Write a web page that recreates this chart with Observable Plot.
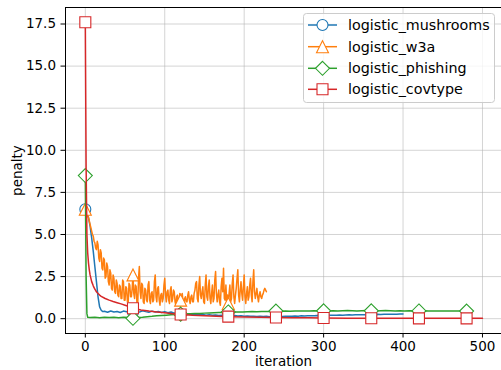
<!DOCTYPE html>
<html><head><meta charset="utf-8">
<script src="https://cdn.jsdelivr.net/npm/d3@7"></script>
<script src="https://cdn.jsdelivr.net/npm/@observablehq/plot@0.6"></script>
<style>body{margin:0;background:#fff;} #wrap{width:501px;height:370px;}</style>
</head><body><div id="wrap"></div>
<script>
// ---- data ----
const seriesNames = ["logistic_mushrooms", "logistic_w3a", "logistic_phishing", "logistic_covtype"];
const seriesColors = ["#1f77b4", "#ff7f0e", "#2ca02c", "#d62728"];
const xTicks = [0, 100, 200, 300, 400, 500];
const yTicks = [0, 2.5, 5, 7.5, 10, 12.5, 15, 17.5];

const mushroomsIter = [0, 2, 4, 6, 8, 10, 12, 14, 16, 18, 20, 22].concat(d3.range(24, 401, 4));
const mushroomsVal = [6.5, 6.3, 6.0, 5.5, 4.8, 4.0, 3.1, 2.2, 1.3, 0.7, 0.5, 0.42,
  0.44, 0.38, 0.46, 0.40, 0.43, 0.37, 0.45, 0.41, 0.48, 0.40, 0.44, 0.39, 0.47, 0.42, 0.38, 0.45, 0.40, 0.43, 0.37, 0.42, 0.36, 0.40, 0.33,
  0.30, 0.28, 0.31, 0.26, 0.28, 0.24, 0.27, 0.23, 0.25, 0.21, 0.24, 0.20, 0.22, 0.19, 0.21, 0.18, 0.20, 0.17, 0.19, 0.16, 0.17, 0.15, 0.16, 0.14, 0.15, 0.13, 0.14, 0.13, 0.14, 0.12, 0.14, 0.13, 0.14, 0.13, 0.15, 0.14, 0.15, 0.16, 0.15, 0.17, 0.16, 0.18, 0.17, 0.18, 0.19, 0.18, 0.20, 0.19, 0.21, 0.20, 0.21, 0.22, 0.21, 0.22, 0.23, 0.22, 0.23, 0.24, 0.23, 0.24, 0.25, 0.24, 0.25, 0.26, 0.25, 0.26, 0.27, 0.26, 0.27, 0.27, 0.28, 0.28];

const w3aIter = d3.range(0, 229);
const w3aVal = [
  6.5, 6.4, 6.2, 6.1, 6.0, 5.8, 5.6, 5.4, 5.2, 5.0,
  4.9, 4.6, 4.5, 4.2, 4.1, 4.6, 4.4, 3.6, 3.4, 4.1,
  3.9, 3.0, 2.9, 3.6, 3.5, 2.4, 2.5, 3.3, 3.1, 2.2,
  2.0, 2.9, 2.7, 1.8, 1.7, 2.6, 2.4, 1.6, 1.5, 2.3,
  2.1, 1.4, 1.3, 2.0, 1.9, 1.2, 1.2, 2.3, 2.2, 1.1,
  1.1, 1.9, 1.8, 1.0, 1.0, 2.1, 2.0, 1.3, 1.3, 1.8,
  2.6, 1.5, 1.2, 2.0, 1.9, 0.9, 0.9, 2.4, 3.1, 1.6,
  1.2, 2.1, 2.0, 1.0, 0.9, 1.8, 1.7, 1.1, 1.0, 2.0,
  2.2, 1.1, 0.9, 1.5, 1.6, 1.0, 1.1, 2.2, 2.6, 1.3,
  1.0, 1.8, 1.9, 1.1, 0.8, 1.4, 1.5, 1.0, 1.2, 2.0,
  2.4, 1.4, 1.0, 1.6, 1.7, 1.1, 0.9, 1.7, 1.9, 1.0,
  1.2, 1.7, 1.6, 1.0, 0.8, 1.3, 1.4, 0.9, 1.0, 1.5,
  1.1, 1.3, 1.5, 1.0, 0.9, 1.2, 1.3, 1.0, 1.0, 1.4,
  1.6, 1.1, 0.9, 1.3, 1.4, 1.0, 1.0, 1.5, 1.7, 2.1,
  2.2, 1.2, 1.0, 2.0, 2.5, 1.4, 1.2, 1.6, 1.9, 1.0,
  0.9, 2.0, 2.6, 1.3, 1.1, 1.9, 2.3, 1.2, 0.9, 1.5,
  2.0, 1.0, 1.2, 2.3, 2.8, 1.5, 1.0, 1.4, 1.7, 1.0,
  0.8, 1.9, 2.4, 1.6, 3.0, 1.2, 1.1, 2.0, 1.0, 1.4,
  0.9, 1.5, 2.0, 1.0, 1.2, 2.1, 2.6, 1.3, 0.9, 1.4,
  1.8, 2.4, 2.9, 1.4, 1.0, 1.7, 2.2, 1.5, 1.1, 1.9,
  2.6, 1.3, 0.9, 1.5, 1.9, 1.1, 1.3, 2.0, 2.4, 1.4,
  1.0, 2.2, 2.9, 1.6, 1.2, 1.5, 1.8, 1.3, 1.0, 1.4,
  1.6, 1.3, 1.2, 1.4, 1.5, 1.7, 1.8, 1.7, 1.6];

const phishingIter = [0, 1, 2, 3].concat(d3.range(6, 481, 6));
const phishingVal = [8.5, 2.5, 0.3, 0.08,
  0.07, 0.08, 0.06, 0.09, 0.07, 0.08, 0.06, 0.08, 0.07, 0.02, 0.07, 0.09, 0.12, 0.14, 0.17, 0.19, 0.21, 0.23, 0.25, 0.27,
  0.28, 0.30, 0.31, 0.31, 0.33, 0.34, 0.35, 0.36, 0.37, 0.40, 0.39, 0.40, 0.40, 0.41, 0.42, 0.41, 0.43, 0.42, 0.43, 0.45,
  0.44, 0.45, 0.44, 0.45, 0.46, 0.45, 0.46, 0.47, 0.46, 0.47, 0.46, 0.47, 0.46, 0.47, 0.48, 0.47, 0.46, 0.47, 0.48, 0.47,
  0.46, 0.47, 0.48, 0.47, 0.46, 0.47, 0.46, 0.47, 0.46, 0.46, 0.47, 0.46, 0.45, 0.46, 0.45, 0.46, 0.45, 0.46, 0.45, 0.45];

const covtypeIter = [0, 1, 2, 3, 4, 5, 6, 8, 10, 12, 14, 16, 18, 20, 25, 30, 35, 40, 45, 50, 55, 60, 70, 80, 90, 100, 110, 120, 135, 150, 165, 180, 200, 220, 240, 260, 280, 300, 330, 360, 390, 420, 450, 480, 500];
const covtypeVal = [17.6, 9.0, 5.0, 3.9, 3.3, 2.9, 2.6, 2.2, 1.95, 1.75, 1.6, 1.5, 1.4, 1.33, 1.2, 1.1, 1.02, 0.95, 0.88, 0.8, 0.72, 0.62, 0.52, 0.45, 0.4, 0.35, 0.3, 0.25, 0.2, 0.17, 0.14, 0.12, 0.1, 0.08, 0.07, 0.06, 0.05, 0.04, 0.03, 0.03, 0.02, 0.02, 0.02, 0.02, 0.02];

// ---- marker shapes (matplotlib-like) ----
const symCircle = {draw(c, s) { const r = Math.sqrt(s / Math.PI); c.moveTo(r, 0); c.arc(0, 0, r, 0, 2 * Math.PI); }};
const symSquare = {draw(c, s) { const r = Math.sqrt(s / Math.PI); c.moveTo(-r, -r); c.lineTo(r, -r); c.lineTo(r, r); c.lineTo(-r, r); c.closePath(); }};
const symDiamond = {draw(c, s) { const r = Math.sqrt(s / Math.PI); c.moveTo(0, -r); c.lineTo(r, 0); c.lineTo(0, r); c.lineTo(-r, 0); c.closePath(); }};
const symTriangle = {draw(c, s) { const r = Math.sqrt(s / Math.PI); c.moveTo(0, -r); c.lineTo(r, r); c.lineTo(-r, r); c.closePath(); }};
const symbols = [symCircle, symTriangle, symDiamond, symSquare];
const symR = [5.5, 6, 7, 5.5];

const allIters = [mushroomsIter, w3aIter, phishingIter, covtypeIter];
const allVals = [mushroomsVal, w3aVal, phishingVal, covtypeVal];
const series = seriesNames.map((name, k) => allIters[k].map((it, i) => ({series: name, it, val: allVals[k][i]})));

const font = "DejaVu Sans";
const fs = 13.5;
const legendFs = 14.3;

const marks = [
  Plot.gridX(xTicks, {stroke: "#b0b0b0", strokeOpacity: 0.55, strokeWidth: 1}),
  Plot.gridY(yTicks, {stroke: "#b0b0b0", strokeOpacity: 0.55, strokeWidth: 1})
];
series.forEach((rows, k) => {
  marks.push(Plot.line(rows, {x: "it", y: "val", stroke: seriesColors[k], strokeWidth: 1.5}));
  marks.push(Plot.dot(rows.filter(d => d.it % 60 === 0), {x: "it", y: "val", r: symR[k], symbol: symbols[k], stroke: seriesColors[k], fill: "white", strokeWidth: 1.1}));
});
marks.push(
  Plot.axisX(xTicks, {tickSize: 4.5, tickPadding: 3.5, tickFormat: d => String(d), label: null, fontSize: fs}),
  Plot.axisY(yTicks, {tickSize: 4.5, tickPadding: 5, tickFormat: d3.format(".1f"), label: null, fontSize: fs}),
  Plot.frame({stroke: "#000", strokeWidth: 1}),
  Plot.text(["iteration"], {frameAnchor: "bottom", dy: 28.5, lineAnchor: "middle", textAnchor: "middle", fontSize: fs, fill: "#000"}),
  Plot.text(["penalty"], {frameAnchor: "left", dx: -48, rotate: -90, lineAnchor: "middle", textAnchor: "middle", fontSize: fs, fill: "#000"})
);

const chart = Plot.plot({
  width: 501, height: 370,
  marginLeft: 65, marginRight: 0, marginTop: 7, marginBottom: 37,
  x: {domain: [-24.95, 523.95]},
  y: {domain: [-0.88, 18.48]},
  style: {fontFamily: font, fontSize: fs + "px", color: "#000", background: "#fff", overflow: "visible"},
  marks
});

// ---- legend (inside the plot, upper right) ----
const svg = d3.select(chart);
const lg = svg.append("g").attr("transform", "translate(303,13)");
lg.append("rect").attr("x", 0.5).attr("y", 0.5).attr("width", 191).attr("height", 89).attr("rx", 3)
  .attr("fill", "white").attr("fill-opacity", 0.8).attr("stroke", "#cccccc").attr("stroke-width", 1);
const rowY = [12, 33.7, 55.3, 76.3];
seriesNames.forEach((name, k) => {
  const g = lg.append("g").attr("transform", `translate(0,${rowY[k]})`);
  g.append("line").attr("x1", 5).attr("x2", 34).attr("y1", 0).attr("y2", 0)
    .attr("stroke", seriesColors[k]).attr("stroke-width", 1.5);
  g.append("path").attr("transform", "translate(19.5,0)")
    .attr("d", d3.symbol(symbols[k], Math.PI * symR[k] * symR[k])())
    .attr("fill", "white").attr("stroke", seriesColors[k]).attr("stroke-width", 1.1);
  g.append("text").attr("x", 45).attr("y", 0).attr("dy", "0.35em").attr("text-anchor", "start")
    .attr("font-family", font).attr("font-size", legendFs).attr("fill", "#000").text(name);
});

document.getElementById("wrap").appendChild(chart);
</script></body></html>
